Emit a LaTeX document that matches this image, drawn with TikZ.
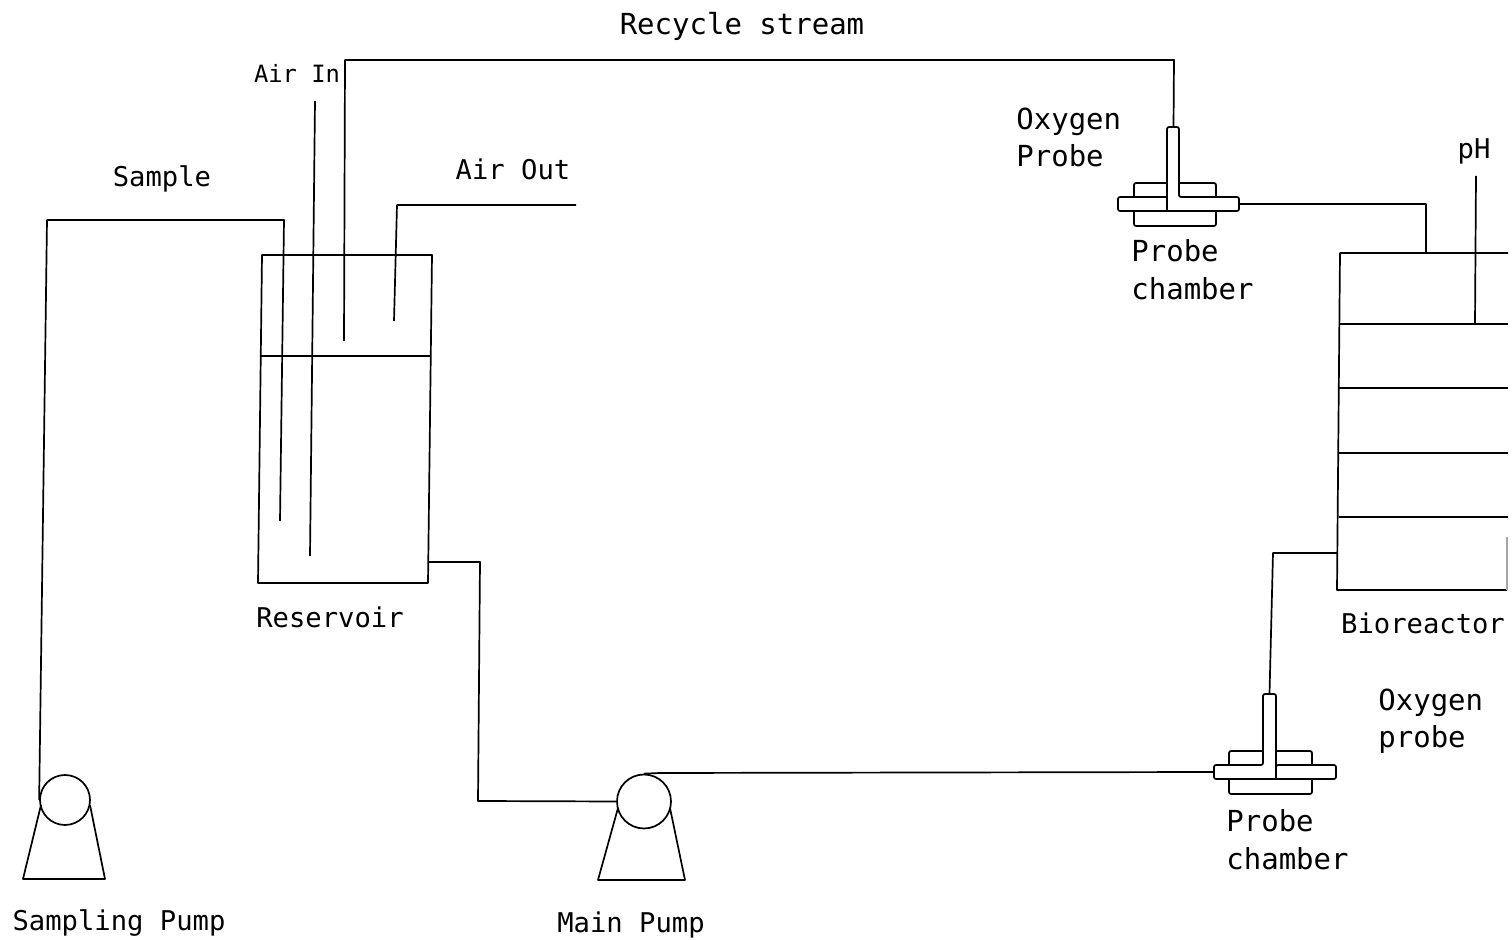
\documentclass[tikz,border=0pt]{standalone}
\usepackage{fontspec}
\setmonofont{DejaVu Sans Mono}
\tikzset{
  pipe/.style={line width=0.85pt,line join=round},
  lab/.style={font=\ttfamily\fontsize{13.6}{16}\selectfont,inner sep=0pt,text=black},
  widelab/.style={lab,font=\ttfamily\fontsize{14.5}{16}\selectfont},
  pumpwheel/.style={circle,draw,line width=0.85pt,inner sep=0pt},
}
\begin{document}
\begin{tikzpicture}[x=0.5pt,y=-0.5pt]
\useasboundingbox (0,0) rectangle (1512,940);

% reservoir
\coordinate (restl) at (262,255);
\coordinate (restr) at (432,255);
\coordinate (resbr) at (428,583);
\coordinate (resbl) at (258,583);
\coordinate (resout) at (428.5,562);
\draw[pipe] (restl)--(restr)--(resbr)--(resbl)--cycle;
\draw[pipe] (261,356)--(431,356);

% tubes into the reservoir
\coordinate (sampleend) at (280,521);
\coordinate (airinend) at (310,556);
\coordinate (airintop) at (315,101);
\coordinate (recycleend) at (344,341);
\coordinate (airoutend) at (394,321);
\coordinate (airoutfree) at (576,205);
\draw[pipe] (airintop)--(airinend);
\draw[pipe] (airoutfree)--(397,205)--(airoutend);

% pumps
\node[pumpwheel,minimum size=25pt] (samplepump) at (65,800) {};
\node[pumpwheel,minimum size=27pt] (mainpump) at (644,801.5) {};
\draw[pipe] (41,805)--(23,879)--(105,879)--(90,805);
\draw[pipe] (618,808)--(598,880)--(685,880)--(670,808);

% probe chambers
\coordinate (upchamberw) at (1118,204);
\coordinate (upchambere) at (1239,204);
\coordinate (upchambertop) at (1173.5,127);
\draw[pipe,rounded corners=1pt] (1134,197)--(1134,183)--(1167,183);
\draw[pipe,rounded corners=1pt] (1179,183)--(1216,183)--(1216,197);
\draw[pipe,rounded corners=1pt] (1134,211)--(1134,226)--(1216,226)--(1216,211);
\draw[pipe,rounded corners=1pt] (1167,197)--(1118,197)--(1118,211)--(1239,211)--(1239,197)--(1179,197)--(1179,127)--(1167,127)--(1167,211);

\coordinate (lowchamberw) at (1214,772);
\coordinate (lowchambertop) at (1269.5,694);
\draw[pipe,rounded corners=1pt] (1229,765)--(1229,751)--(1263,751);
\draw[pipe,rounded corners=1pt] (1276,751)--(1312,751)--(1312,765);
\draw[pipe,rounded corners=1pt] (1229,779)--(1229,794)--(1312,794)--(1312,779);
\draw[pipe,rounded corners=1pt] (1276,779)--(1276,765)--(1336,765)--(1336,779)--(1214,779)--(1214,765)--(1263,765)--(1263,694)--(1276,694)--(1276,779);

% bioreactor
\coordinate (biotl) at (1340,253);
\coordinate (biobl) at (1337,590);
\coordinate (biobr) at (1507,590);
\coordinate (biotr) at (1508,253);
\coordinate (bioinlet) at (1337.5,553);
\coordinate (biooutlet) at (1426,253);
\coordinate (phtop) at (1476,176);
\coordinate (phend) at (1475,324);
\draw[pipe] (biotr)--(biotl)--(biobl)--(biobr);
\draw[pipe,black!35] (biobr)--(1507,537);
\foreach \y in {324,388,453,517}
    \draw[pipe] (1339,\y)--(1508,\y);
\draw[pipe] (phtop)--(phend);

% connecting lines
\draw[pipe] (samplepump.west)--(47,220)--(284,220)--(sampleend);
\draw[pipe] (recycleend)--(345,60)--(1174,60)--(upchambertop);
\draw[pipe] (upchambere)--(1426,204)--(biooutlet);
\draw[pipe] (resout)--(480,562)--(478,801)--(mainpump.west);
\draw[pipe] (mainpump.north)--(660,773)--(lowchamberw);
\draw[pipe] (lowchambertop)--(1273,553)--(bioinlet);

% labels
\node[widelab] (recyclelab) at (742,26) {Recycle stream};
\node[lab,font=\ttfamily\fontsize{11.9}{16}\selectfont] (airinlab) at (297,73) {Air In};
\node[lab] (samplelab) at (162,179) {Sample};
\node[lab] (airoutlab) at (513,169) {Air Out};
\node[widelab,anchor=west] (oxyup) at (1016,122) {Oxygen};
\node[widelab,anchor=west] (probeup) at (1016,156) {Probe};
\node[lab] (phlab) at (1474,151) {pH};
\node[widelab,anchor=west] (chamberup) at (1131,251) {Probe};
\node[widelab,anchor=west] (chamberupb) at (1131,289) {chamber};
\node[lab] (reslab) at (330,617) {Reservoir};
\node[lab] (biolab) at (1423,623) {Bioreactor};
\node[widelab,anchor=west] (oxylow) at (1378,703) {Oxygen};
\node[widelab,anchor=west] (probelow) at (1378,740) {probe};
\node[widelab,anchor=west] (chamberlow) at (1226,821) {Probe};
\node[widelab,anchor=west] (chamberlowb) at (1226,859) {chamber};
\node[lab] (samplepumplab) at (119,923) {Sampling Pump};
\node[lab] (mainpumplab) at (631,925) {Main Pump};
\end{tikzpicture}
\end{document}
